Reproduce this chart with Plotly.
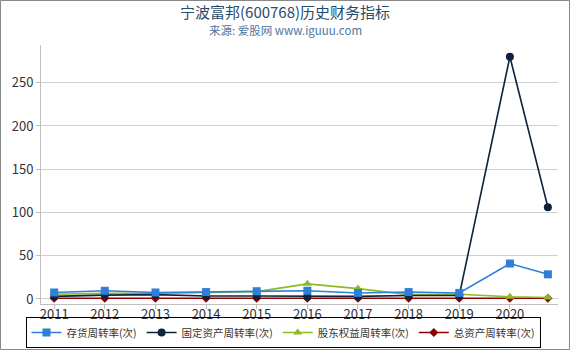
import plotly.graph_objects as go

x_pos = [2011, 2012, 2013, 2014, 2015, 2016, 2017, 2018, 2019, 2020, 2020.75]
tick_vals = [2011, 2012, 2013, 2014, 2015, 2016, 2017, 2018, 2019, 2020]
tick_text = ["2011", "2012", "2013", "2014", "2015", "2016", "2017", "2018", "2019", "2020"]

inventory = [7.5, 9.5, 7.5, 8, 9, 9.5, 7, 8, 7, 41, 28.5]
fixed_assets = [3, 4.5, 5, 3.5, 3.5, 3, 3, 4, 4, 280, 106]
equity = [5.5, 6.5, 6.5, 7.5, 8.5, 17.5, 12, 5, 5.5, 2.5, 1.8]
total_assets = [0.8, 0.9, 0.8, 0.8, 0.8, 0.8, 0.8, 0.8, 0.8, 0.9, 0.8]

names = ["存货周转率(次)", "固定资产周转率(次)", "股东权益周转率(次)", "总资产周转率(次)"]
colors = ["#2f7ed8", "#0d233a", "#8bbc21", "#910000"]
symbols = ["square", "circle", "triangle-up", "diamond"]
series = [inventory, fixed_assets, equity, total_assets]

fig = go.Figure()
for i in [3, 2, 1, 0]:
    fig.add_trace(go.Scatter(
        x=x_pos, y=series[i], name=names[i], mode="lines+markers",
        line=dict(color=colors[i], width=1.6),
        marker=dict(symbol=symbols[i], size=8 if symbols[i] != "diamond" else 7, color=colors[i]),
        legendrank=i + 1,
    ))

font_family = "Noto Sans CJK SC, DejaVu Sans, sans-serif"
plot_h = 350 - 45 - 46
plot_w = 570 - 41 - 12
def py(pix):
    return (350 - 46 - pix) / plot_h
def px(pix):
    return (pix - 41) / plot_w

fig.update_layout(
    width=570, height=350,
    margin=dict(l=41, r=12, t=45, b=46, autoexpand=False),
    paper_bgcolor="white", plot_bgcolor="white",
    font=dict(family=font_family, size=12, color="#333333"),
    showlegend=True,
    legend=dict(
        orientation="h", x=px(283), xanchor="center", y=py(348), yanchor="bottom",
        bordercolor="#000000", borderwidth=1, bgcolor="rgba(0,0,0,0)",
        font=dict(size=10.5, color="#333333"),
        itemwidth=30, tracegroupgap=0, traceorder="normal",
    ),
    xaxis=dict(
        range=[2010.74, 2020.95], tickmode="array", tickvals=tick_vals, ticktext=tick_text,
        showgrid=False, zeroline=False, showline=True, linecolor="#c0c0c0", linewidth=1,
        ticks="outside", ticklen=4, tickcolor="#c0c0c0", ticklabelstandoff=-6,
        tickfont=dict(size=13, color="#333333"),
    ),
    yaxis=dict(
        range=[-5.8, 293.6], tickvals=[0, 50, 100, 150, 200, 250],
        showgrid=True, gridcolor="#d0d0d0", gridwidth=1, zeroline=False,
        showline=True, linecolor="#c0c0c0", linewidth=1,
        ticks="outside", ticklen=4, tickcolor="#c0c0c0",
        tickfont=dict(size=13, color="#333333"),
    ),
    annotations=[
        dict(text="宁波富邦(600768)历史财务指标", x=px(285), xref="paper", xanchor="center",
             y=py(11), yref="paper", yanchor="middle", showarrow=False,
             font=dict(size=15, color="#274b6d", family=font_family)),
        dict(text="来源: 爱股网 www.iguuu.com", x=px(285), xref="paper", xanchor="center",
             y=py(30), yref="paper", yanchor="middle", showarrow=False,
             font=dict(size=11.5, color="#4d759e", family=font_family)),
    ],
)

fig.add_shape(type="rect", xref="paper", yref="paper",
              x0=px(0.5), x1=px(569.5), y0=py(349.5), y1=py(0.5),
              line=dict(color="#888888", width=1), fillcolor="rgba(0,0,0,0)", layer="above")

fig.write_html("out.html")
